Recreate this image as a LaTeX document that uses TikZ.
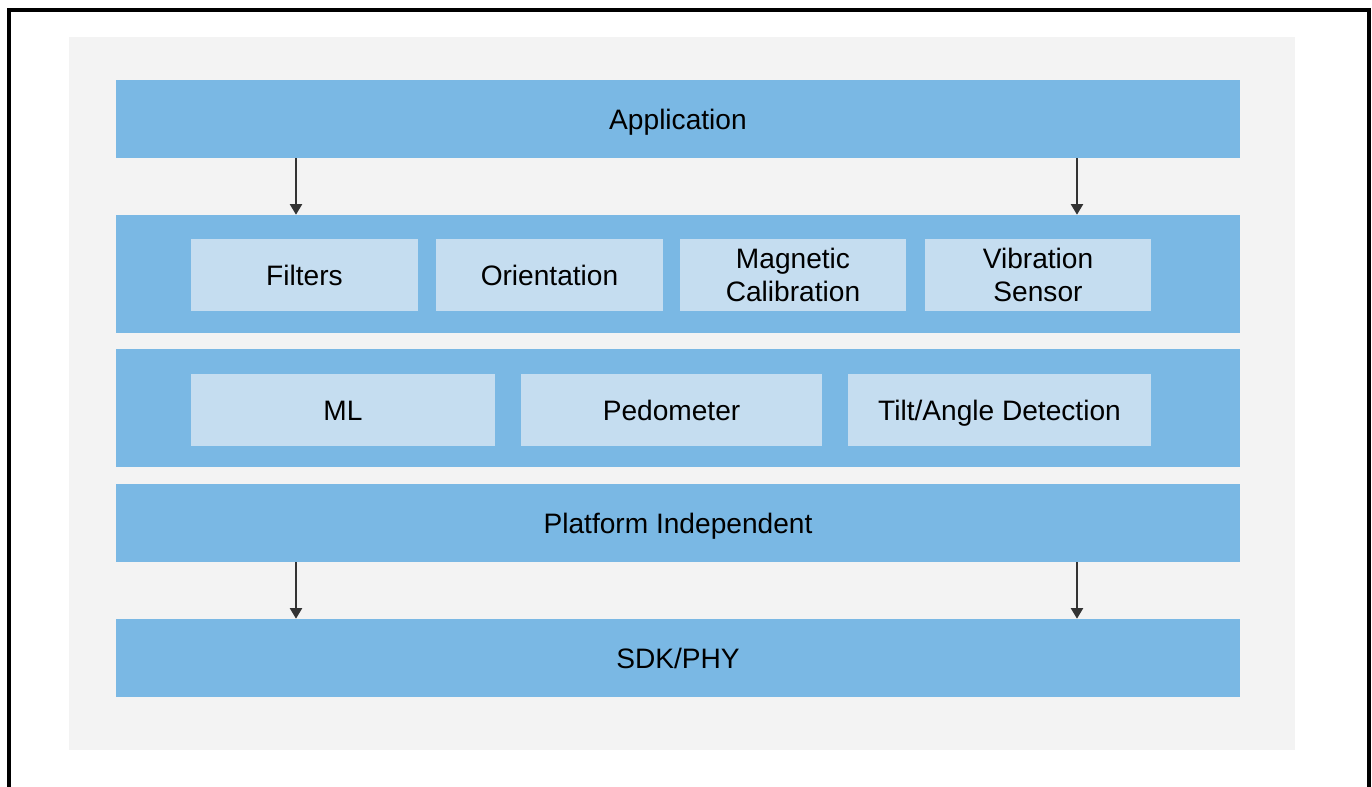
\documentclass[tikz,border=0pt]{standalone}
\usepackage{fontspec}
\setmainfont{Liberation Sans}
\usetikzlibrary{arrows.meta}

\newcommand{\capline}{\rule[-0.22em]{0pt}{1.16em}}

\begin{document}
\begin{tikzpicture}[x=0.02cm,y=-0.02cm]

\definecolor{barBL}{HTML}{7AB8E4}
\definecolor{boxBL}{HTML}{C5DDF0}
\definecolor{panelGR}{HTML}{F3F3F3}

\tikzset{
 layer/.style = {fill = barBL, inner sep = 0pt, minimum width = 22.48cm, font = \fontsize{16}{19}\selectfont, execute at begin node = \capline},
 block/.style = {fill = boxBL, inner sep = 0pt, minimum height = 1.44cm, align = center, font = \fontsize{16}{19}\selectfont},
 one/.style = {execute at begin node = \capline},
 down/.style = {draw = black!80, line width = 0.7pt, -{Triangle[length=6pt, width=7pt]}}
}

\useasboundingbox (0,0) rectangle (1372,787);
\draw[line width = 1.8pt] (9,787) -- (9,10) -- (1369,10) -- (1369,787);

\node[fill = panelGR, inner sep = 0pt, minimum width = 24.52cm, minimum height = 14.26cm] (panel) at (682,393.5) {};

\node[layer, minimum height = 1.56cm] (app) at (678,119) {Application};
\node[layer, minimum height = 2.36cm] (mid) at (678,274) {};
\node[layer, minimum height = 2.36cm] (low) at (678,408) {};
\node[layer, minimum height = 1.56cm] (plat) at (678,523) {Platform Independent};
\node[layer, minimum height = 1.56cm] (sdk) at (678,658) {SDK/PHY};

\node[block, one, minimum width = 4.54cm] (filt) at (304.5,275) {Filters};
\node[block, one, minimum width = 4.54cm] (orient) at (549.5,275) {Orientation};
\node[block, minimum width = 4.54cm] (magcal) at (793,275) {Magnetic\\Calibration};
\node[block, minimum width = 4.54cm] (vibsen) at (1038,275) {Vibration\\Sensor};

\node[block, one, minimum width = 6.08cm] (ml) at (343,410) {ML};
\node[block, one, minimum width = 6.02cm] (pedo) at (671.5,410) {Pedometer};
\node[block, one, minimum width = 6.06cm] (tilt) at (999.5,410) {Tilt/Angle Detection};

\coordinate (ax) at (296,0);
\coordinate (bx) at (1077,0);

\draw[down] (app.south -| ax) -- (mid.north -| ax);
\draw[down] (app.south -| bx) -- (mid.north -| bx);
\draw[down] (plat.south -| ax) -- (sdk.north -| ax);
\draw[down] (plat.south -| bx) -- (sdk.north -| bx);

\end{tikzpicture}
\end{document}
